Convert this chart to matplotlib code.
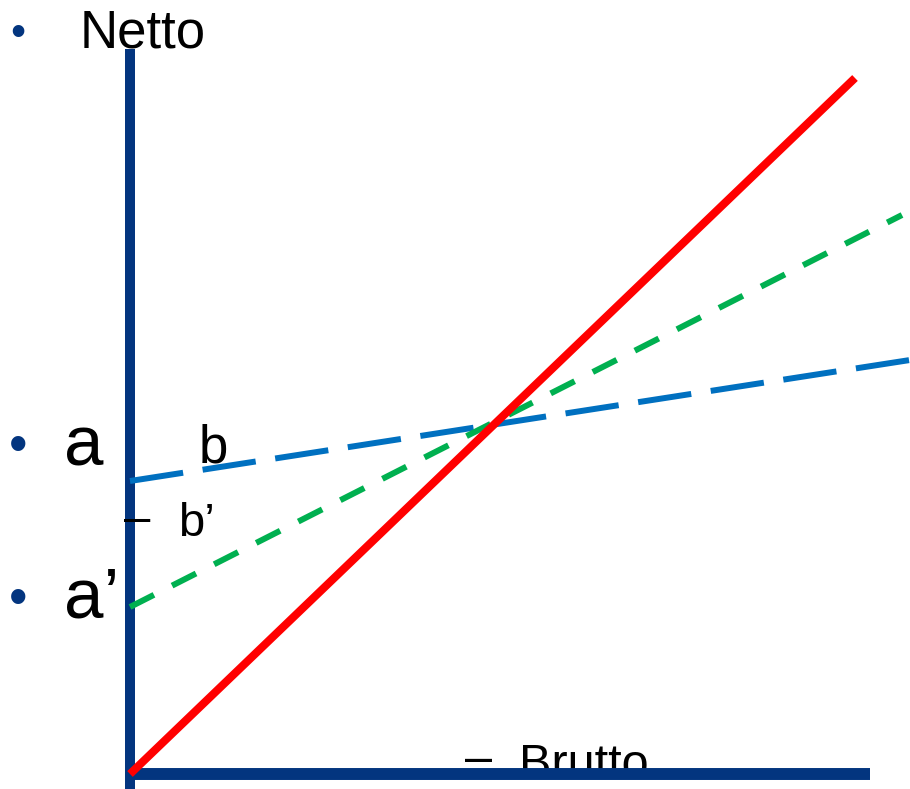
import numpy as np
import matplotlib
matplotlib.use('Agg')
import matplotlib.pyplot as plt

# Brutto (x) e Netto (y), origine nell'angolo degli assi
brutto_rossa = [0, 725]
netto_rossa = [0, 696]
brutto_blu = [0, 780]
netto_blu = [293, 414]
brutto_verde = [0, 772]
netto_verde = [167, 559]

asse_x = [-5, 740]
asse_y = [-15, 725]

NAVY = '#03357f'
W, H = 910, 789

plt.rcParams['font.family'] = ['Liberation Sans', 'DejaVu Sans']

fig = plt.figure(figsize=(W / 100, H / 100), dpi=100)
ax = fig.add_axes([0, 0, 1, 1])
ax.set_xlim(-130, 780)
ax.set_ylim(-15, 774)
ax.axis('off')

# assi
ax.plot([0, 0], asse_y, color=NAVY, lw=7.2, solid_capstyle='butt', zorder=2)
ax.plot(asse_x, [0, 0], color=NAVY, lw=8.6, solid_capstyle='butt', zorder=2)

# rette
ax.plot(brutto_blu, netto_blu, color='#0070C0', lw=4.3, dashes=(9, 3.3),
        dash_capstyle='butt', zorder=3)
ax.plot(brutto_verde, netto_verde, color='#00B050', lw=4.3, dashes=(4.5, 3.4),
        dash_capstyle='butt', zorder=3)
ax.plot(brutto_rossa, netto_rossa, color='#FF0000', lw=5.8,
        solid_capstyle='butt', zorder=4)


def testo(x, y, s, size, color='black', z=5):
    # x, y in pixel dall'alto a sinistra, y = linea di base
    ax.text(x / W, 1 - y / H, s, fontsize=size, color=color, ha='left',
            va='baseline', transform=fig.transFigure, zorder=z, clip_on=False)


# punti elenco
testo(10, 45, '\u2022', 31, NAVY)
testo(9, 462, '\u2022', 38, NAVY)
testo(9, 615, '\u2022', 38, NAVY)

testo(80, 48, 'Netto', 38)
testo(64, 465, 'a', 51)
testo(64, 618, 'a\u2019', 51)
testo(199, 463, 'b', 38)
testo(124, 532, '\u2013', 34, z=6)
testo(178, 536, 'b\u2019', 34)
testo(465, 773, '\u2013', 35, z=1)
testo(519, 778, 'Brutto', 35, z=1)

fig.savefig('out.png', dpi=100)
